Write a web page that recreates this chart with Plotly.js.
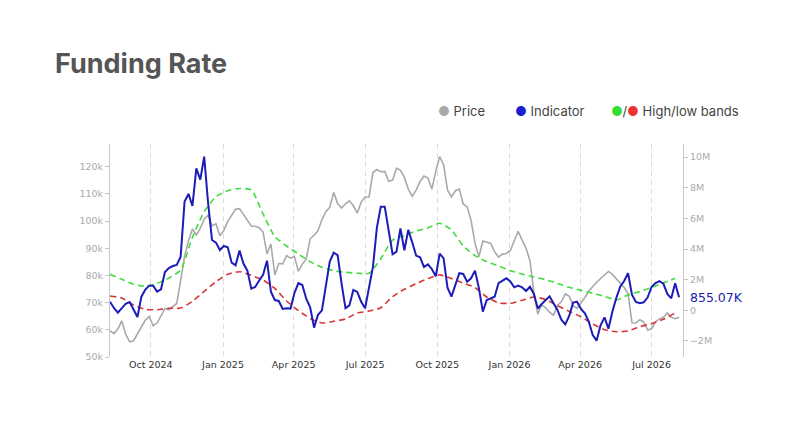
<!DOCTYPE html>
<html>
<head>
<meta charset="utf-8">
<script src="https://cdn.plot.ly/plotly-3.0.1.min.js"></script>
<style>
html,body{margin:0;padding:0;background:#fff;}
#chart{width:800px;height:433px;}
</style>
</head>
<body>
<div id="chart"></div>
<script>
// ---- data ----
const seriesStart = '2024-08-10';
const seriesStepDays = 5;
const bandStepDays = 15;

// Price (k USD), every 5 days
const priceK = [
  59.7, 58.6, 60.3, 63.3, 58.4, 55.6, 56.0, 58.7, 61.4, 63.6,
  64.9, 61.5, 62.5, 65.4, 67.9, 67.4, 68.6, 69.7, 78.1, 87.0,
  92.8, 97.1, 94.9, 97.3, 100.8, 102.2, 98.3, 99.0, 94.6, 96.5,
  99.9, 102.0, 104.4, 104.6, 102.5, 100.1, 98.2, 98.1, 97.6, 96.0,
  87.9, 91.6, 80.2, 84.4, 84.3, 87.3, 86.4, 87.0, 81.5, 84.2,
  86.0, 93.5, 94.8, 96.5, 100.6, 103.5, 105.1, 110.6, 106.5, 104.8,
  106.4, 107.5, 105.7, 103.0, 107.0, 108.9, 108.9, 117.9, 119.0, 118.2,
  118.3, 114.7, 115.1, 119.5, 118.7, 116.2, 111.8, 109.1, 111.4, 114.6,
  116.6, 115.9, 111.8, 118.3, 123.8, 120.8, 111.4, 108.9, 111.2, 111.8,
  106.3, 105.3, 100.3, 91.9, 86.9, 92.7, 92.1, 91.8, 88.7, 86.8,
  87.9, 88.1, 89.2, 92.9, 96.3, 93.0, 90.1, 85.4, 73.8, 65.8,
  69.2, 68.1, 66.5, 65.4, 69.0, 70.3, 73.2, 72.4, 68.9, 67.9,
  69.7, 71.9, 74.3, 76.1, 77.5, 78.9, 80.4, 81.5, 80.4, 78.7,
  77.3, 75.6, 73.3, 62.6, 62.5, 63.7, 62.9, 59.9, 60.4, 62.9,
  64.0, 64.6, 66.2, 64.6, 64.1, 64.6
];

// Indicator (millions), every 5 days
const indicatorM = [
  0.56, 0.15, -0.16, 0.13, 0.43, 0.54, 0.09, -0.44, 0.89, 1.35,
  1.61, 1.61, 1.22, 1.37, 2.50, 2.76, 2.89, 2.96, 3.50, 7.10,
  7.60, 6.81, 9.27, 8.53, 10.04, 6.99, 4.59, 4.42, 3.94, 4.20,
  4.11, 3.11, 2.94, 3.90, 3.05, 2.59, 1.41, 1.52, 1.94, 2.31,
  3.24, 1.22, 0.67, 0.61, 0.09, 0.13, 0.11, 1.13, 1.78, 1.65,
  0.76, 0.19, -1.13, -0.29, 0.00, 1.65, 3.18, 3.76, 3.61, 1.76,
  0.13, 0.32, 1.33, 1.20, 0.56, 0.13, 1.41, 2.83, 5.40, 6.77,
  6.77, 5.27, 3.66, 3.83, 5.35, 3.92, 5.25, 4.44, 3.57, 3.46,
  2.83, 3.00, 2.70, 2.22, 3.70, 3.39, 1.48, 0.89, 1.67, 2.42,
  2.37, 1.87, 2.09, 2.59, 1.44, -0.09, 0.67, 0.80, 0.89, 1.78,
  1.96, 2.09, 1.89, 1.50, 1.61, 1.50, 1.26, 1.54, 1.07, 0.11,
  0.41, 0.63, 0.91, 0.46, 0.02, -0.61, -0.92, -0.37, 0.50, 0.56,
  0.09, -0.20, -0.74, -1.61, -1.98, -0.98, -0.46, -1.20, -0.09, 0.80,
  1.54, 1.91, 2.42, 1.02, 0.54, 0.46, 0.52, 0.85, 1.54, 1.78,
  1.91, 1.74, 1.07, 0.78, 1.76, 0.85507
];

// High band (millions), every 15 days
const highBandM = [
  2.35, 2.02, 1.70, 1.57, 1.76, 2.11, 2.63, 4.77, 6.44, 7.42,
  7.81, 7.95, 7.86, 6.29, 4.81, 4.20, 3.68, 3.18, 2.81, 2.59,
  2.48, 2.42, 2.42, 3.37, 4.59, 4.88, 5.18, 5.38, 5.68, 5.25,
  4.20, 3.57, 3.18, 2.89, 2.59, 2.37, 2.18, 2.00, 1.76, 1.50,
  1.30, 1.11, 0.91, 0.67, 1.00, 1.22, 1.50, 1.78, 2.09
];

// Low band (millions), every 15 days
const lowBandM = [
  0.93, 0.80, 0.35, 0.06, 0.04, 0.13, 0.15, 0.59, 1.24, 1.87,
  2.35, 2.52, 2.28, 1.98, 1.43, 0.61, -0.02, -0.53, -0.83, -0.72,
  -0.57, -0.18, -0.05, 0.17, 0.89, 1.37, 1.74, 2.07, 2.31, 2.07,
  1.78, 1.48, 0.87, 0.48, 0.46, 0.65, 0.87, 0.70, 0.30, -0.07,
  -0.42, -0.90, -1.27, -1.40, -1.35, -1.07, -0.87, -0.59, -0.18
];

const lastLabel = '855.07K';
const legendLabels = ['Price', 'Indicator', 'High/low bands'];

// ---- build ----
function makeDates(start, step, n) {
  const t0 = Date.parse(start + 'T00:00:00Z');
  const out = [];
  for (let i = 0; i < n; i++) out.push(new Date(t0 + i * step * 864e5).toISOString().slice(0, 10));
  return out;
}
const seriesDates = makeDates(seriesStart, seriesStepDays, priceK.length);
const bandDates = makeDates(seriesStart, bandStepDays, highBandM.length);
const toUnits = a => a.map(v => v * 1e6);

const C_GRAY = '#a9a9a9', C_BLUE = '#1c1cb8', C_GREEN = '#3fdc3f', C_RED = '#d93535';

const traces = [
  {x: seriesDates, y: priceK, yaxis: 'y', type: 'scatter', mode: 'lines',
   line: {color: C_GRAY, width: 1.6}, name: 'Price'},
  {x: bandDates, y: toUnits(highBandM), yaxis: 'y2', type: 'scatter', mode: 'lines',
   line: {color: C_GREEN, width: 1.6, dash: '6px,4px', shape: 'spline', smoothing: 0.6}, name: 'High band'},
  {x: bandDates, y: toUnits(lowBandM), yaxis: 'y2', type: 'scatter', mode: 'lines',
   line: {color: C_RED, width: 1.6, dash: '6px,4px', shape: 'spline', smoothing: 0.6}, name: 'Low band'},
  {x: seriesDates, y: toUnits(indicatorM), yaxis: 'y2', type: 'scatter', mode: 'lines',
   line: {color: C_BLUE, width: 2}, name: 'Indicator'}
];

const tickFont = {family: 'DejaVu Sans', size: 9.5, color: '#aaaaaa'};
const legFont = {family: 'Inter', size: 13, color: '#444444'};

const layout = {
  width: 800, height: 433,
  paper_bgcolor: '#ffffff', plot_bgcolor: '#ffffff',
  margin: {l: 110, r: 117, t: 144, b: 76},
  showlegend: false,
  title: {
    text: '<b>Funding Rate</b>',
    font: {family: 'Inter', size: 27, color: '#555555'},
    x: 55 / 800, xanchor: 'left', xref: 'container',
    y: 1 - 64 / 433, yanchor: 'middle', yref: 'container'
  },
  xaxis: {
    type: 'date',
    range: ['2024-08-10', '2026-08-10'],
    tick0: '2024-10-01', dtick: 'M3', tickformat: '%b %Y',
    showgrid: true, gridcolor: '#dcdcdc', gridwidth: 1, griddash: '5px,4px',
    showline: false, zeroline: false, ticks: '',
    tickfont: {family: 'DejaVu Sans', size: 9.5, color: '#333333'}
  },
  yaxis: {
    range: [50, 128.4], dtick: 10, ticksuffix: 'k',
    showgrid: false, zeroline: false,
    showline: true, linecolor: '#c8c8c8', linewidth: 1,
    ticks: 'outside', ticklen: 4, tickcolor: '#c8c8c8',
    tickfont: tickFont
  },
  yaxis2: {
    overlaying: 'y', side: 'right', anchor: 'x',
    range: [-3.05e6, 10.86e6], dtick: 2e6, tickformat: '~s',
    showgrid: false, zeroline: false,
    showline: true, linecolor: '#c8c8c8', linewidth: 1,
    ticks: 'outside', ticklen: 4, tickcolor: '#c8c8c8',
    tickfont: tickFont
  },
  annotations: [
    {x: seriesDates[seriesDates.length - 1], y: indicatorM[indicatorM.length - 1] * 1e6,
     xref: 'x', yref: 'y2', xanchor: 'left', yanchor: 'middle', xshift: 9, showarrow: false,
     text: lastLabel, font: {family: 'DejaVu Sans', size: 12.5, color: '#1c1ca8'}},
    {x: 0.569, y: 1.156, xref: 'paper', yref: 'paper', xanchor: 'left', yanchor: 'middle',
     showarrow: false, font: legFont,
     text: '<span style="color:' + C_GRAY + '">●</span> ' + legendLabels[0]},
    {x: 0.7025, y: 1.156, xref: 'paper', yref: 'paper', xanchor: 'left', yanchor: 'middle',
     showarrow: false, font: legFont,
     text: '<span style="color:#1c1cd0">●</span> ' + legendLabels[1]},
    {x: 0.870, y: 1.156, xref: 'paper', yref: 'paper', xanchor: 'left', yanchor: 'middle',
     showarrow: false, font: legFont,
     text: '<span style="color:#33dd33">●</span>/<span style="color:#ee3333">●</span> ' + legendLabels[2]}
  ]
};

Plotly.newPlot('chart', traces, layout, {staticPlot: true, displayModeBar: false});
</script>
</body>
</html>
